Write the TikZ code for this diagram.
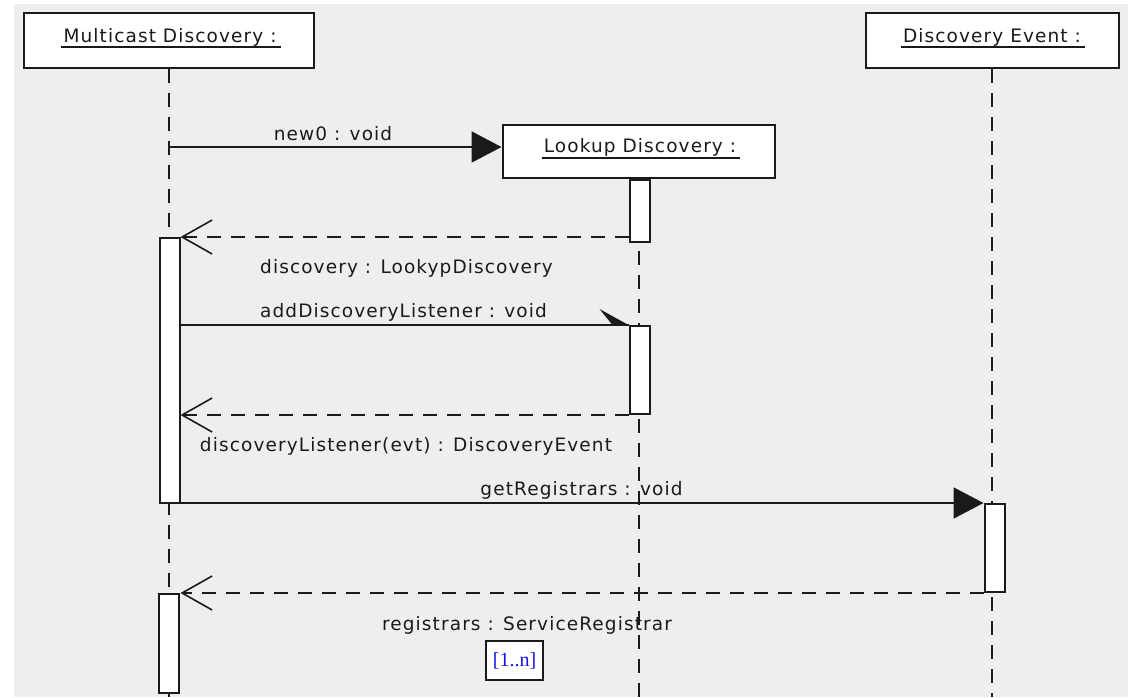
\documentclass[tikz,border=0pt]{standalone}
\usepackage{fontspec}
\setmainfont{DejaVu Sans}[LetterSpace=6]
\newfontfamily\multfont{Liberation Serif}
\usetikzlibrary{arrows.meta}
\definecolor{canvas}{HTML}{EEEEEE}
\definecolor{ink}{HTML}{1A1A1A}
\definecolor{multblue}{HTML}{1414E6}

\begin{document}
\begin{tikzpicture}[x=1pt,y=-1pt,
  every node/.style={font=\fontsize{18.5}{22}\selectfont, text=ink},
  objbox/.style={draw=ink, fill=white, line width=2pt, inner sep=0pt},
  objtitle/.style={anchor=base, inner sep=0pt},
  underline/.style={draw=ink, line width=1.6pt},
  lifeline/.style={draw=ink, line width=2pt, dash pattern=on 14pt off 10pt},
  actbar/.style={draw=ink, fill=white, line width=2pt, inner sep=0pt, minimum width=20pt, anchor=north},
  callmsg/.style={draw=ink, line width=2pt, -{Triangle[length=30pt,width=31pt]}},
  plainmsg/.style={draw=ink, line width=2pt},
  replymsg/.style={draw=ink, line width=2pt, dash pattern=on 14pt off 10pt,
    -{Straight Barb[length=30pt,width=34pt,line width=1.6pt]}},
  msglabel/.style={anchor=base, inner sep=0pt},
]
% canvas
\useasboundingbox (0,0) rectangle (1128,697);
\fill[canvas] (14,4) rectangle (1128,697);

% object boxes
\node[objbox, minimum width=290pt, minimum height=55pt] (mc) at (168.5,40.5) {};
\node[objbox, minimum width=272pt, minimum height=53pt] (lk) at (638.5,151.5) {};
\node[objbox, minimum width=253pt, minimum height=55pt] (ev) at (992,40.5) {};

\node[objtitle] (mct) at (170,42) {Multicast Discovery :};
\node[objtitle] (lkt) at (640,152) {Lookup Discovery :};
\node[objtitle] (evt) at (992,42) {Discovery Event :};
\draw[underline] ([yshift=-5pt,xshift=-2pt]mct.base west) -- ([yshift=-5pt,xshift=4pt]mct.base east);
\draw[underline] ([yshift=-6pt,xshift=-2pt]lkt.base west) -- ([yshift=-6pt,xshift=4pt]lkt.base east);
\draw[underline] ([yshift=-5pt,xshift=-2pt]evt.base west) -- ([yshift=-5pt,xshift=4pt]evt.base east);

% lifelines
\coordinate (mcEnd) at (mc.south |- 0,697);
\coordinate (lkEnd) at (lk.south |- 0,697);
\coordinate (evEnd) at (ev.south |- 0,697);
\draw[lifeline] (mc.south) -- (mcEnd);
\draw[lifeline] (lk.south) -- (lkEnd);
\draw[lifeline] (ev.south) -- (evEnd);

% activation bars
\node[actbar, minimum height=62pt]  (lb1) at (640,179) {};
\node[actbar, minimum height=265pt] (mb1) at (169.5,237) {};
\node[actbar, minimum height=88pt]  (lb2) at (639.5,325) {};
\node[actbar, minimum height=88pt]  (eb1) at (994.5,503) {};
\node[actbar, minimum height=99pt]  (mb2) at (168.5,593) {};

% messages
\coordinate (m1) at (mc.south |- 0,147);
\draw[callmsg] (m1) -- (m1 -| lk.west);
\draw[replymsg] (lb1.west |- mb1.north) -- (mb1.north east);
\draw[plainmsg] (mb1.east |- lb2.north) -- (lb2.north west);
\fill[ink] (lb2.north west) -- ++(-29,-16) -- ++(13,16) -- cycle;
\draw[replymsg] (lb2.south west) -- (lb2.south west -| mb1.east);
\draw[callmsg] (eb1.north west -| mb1.east) -- (eb1.north west);
\draw[replymsg] (eb1.south west) -- (eb1.south west -| mb1.east);

% message labels
\node[msglabel] (l1) at (333,140) {new0 : void};
\node[msglabel] (l2) at (406.5,273) {discovery : LookypDiscovery};
\node[msglabel] (l3) at (403.5,317) {addDiscoveryListener : void};
\node[msglabel] (l4) at (406,451) {discoveryListener(evt) : DiscoveryEvent};
\node[msglabel] (l5) at (581.5,495) {getRegistrars : void};
\node[msglabel] (l6) at (527,630) {registrars : ServiceRegistrar};

% multiplicity
\node[draw=ink, fill=white, line width=2pt, minimum width=57pt, minimum height=39pt,
  inner sep=0pt, text=multblue, font=\multfont\fontsize{20}{22}\selectfont] (mult) at (514.5,660.5) {[1..n]};
\end{tikzpicture}
\end{document}
